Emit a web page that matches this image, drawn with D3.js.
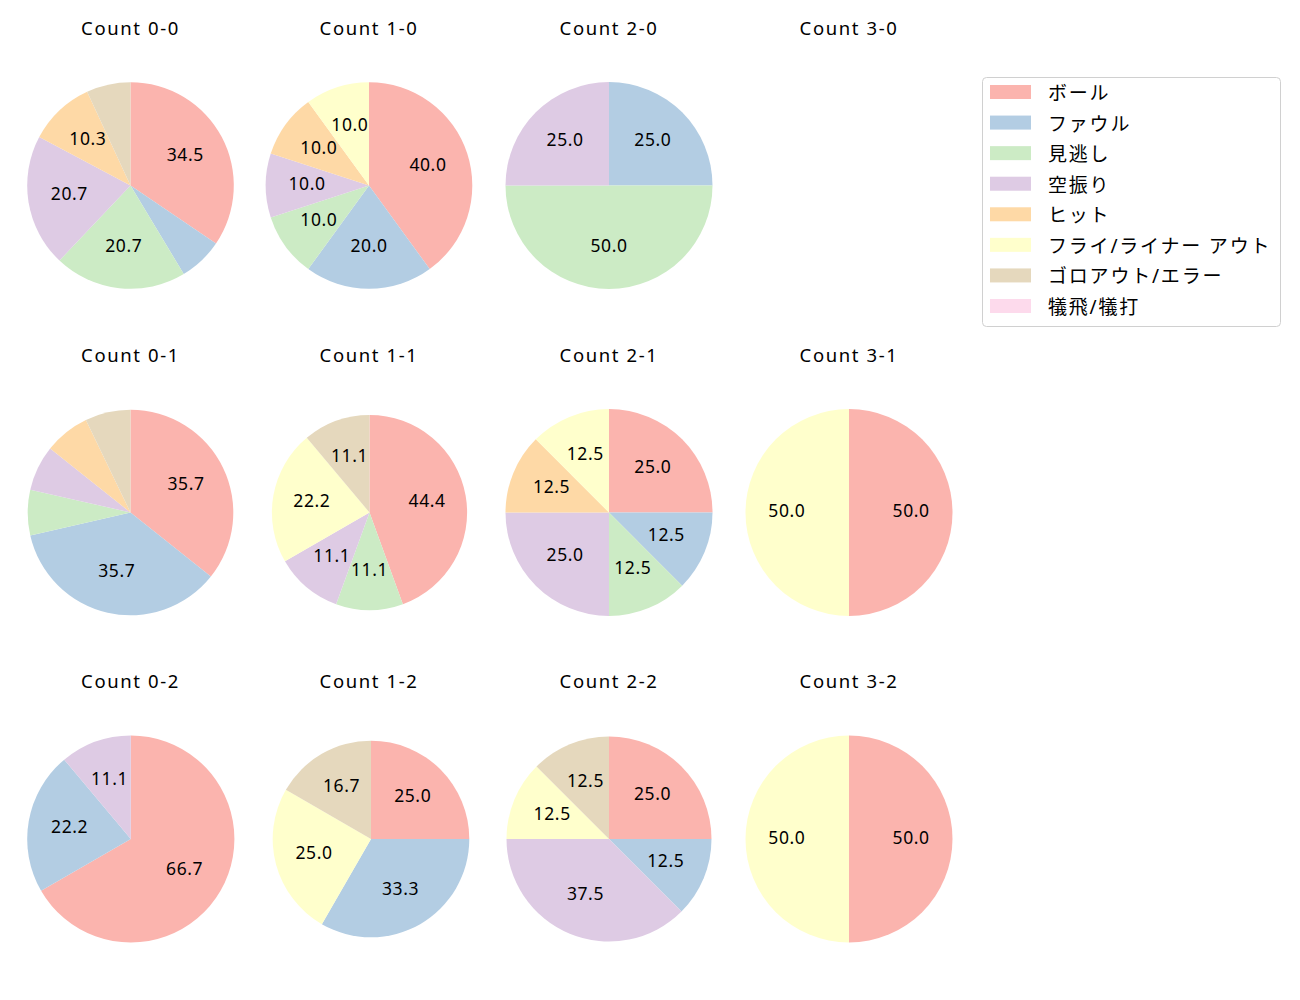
<!DOCTYPE html>
<html><head><meta charset="utf-8">
<script src="https://cdn.jsdelivr.net/npm/d3@7/dist/d3.min.js"></script>
<style>
html,body{margin:0;padding:0;background:#fff;}
svg{display:block;font-family:"Noto Sans","Noto Sans CJK JP",sans-serif;}
</style></head>
<body>
<svg id="chart" width="1300" height="1000"></svg>
<script>
const categories = ["ボール","ファウル","見逃し","空振り","ヒット","フライ/ライナー アウト","ゴロアウト/エラー","犠飛/犠打"];
const colors = ["#fbb4ae","#b3cde3","#ccebc5","#decbe4","#fed9a6","#ffffcc","#e5d8bd","#fddaec"];
const countLabels = ["0-0","1-0","2-0","3-0","0-1","1-1","2-1","3-1","0-2","1-2","2-2","3-2"];
const count00 = [10,2,6,6,3,0,2,0];
const count10 = [4,2,1,1,1,1,0,0];
const count20 = [0,1,2,1,0,0,0,0];
const count30 = [0,0,0,0,0,0,0,0];
const count01 = [5,5,1,1,1,0,1,0];
const count11 = [4,0,1,1,0,2,1,0];
const count21 = [2,1,1,2,1,1,0,0];
const count31 = [1,0,0,0,0,1,0,0];
const count02 = [6,2,0,1,0,0,0,0];
const count12 = [3,4,0,0,0,3,2,0];
const count22 = [2,1,0,3,0,1,1,0];
const count32 = [1,0,0,0,0,1,0,0];
const panelValues = [count00,count10,count20,count30,count01,count11,count21,count31,count02,count12,count22,count32];
const labelThreshold = 10;

// layout
const colX = [130.5, 369, 609, 849];
const rowY = [185.5, 512.5, 839];
const titleBase = [34.5, 361.5, 687.5];
const radii = [103.3,103.3,103.5,103.5, 102.8,97.6,103.5,103.5, 103.6,98.3,102.5,103.5];
const centerDx = [0,0,0,0, 0,0.5,0,0, 0.3,2,0,0];

const svg = d3.select("#chart");
const pie = d3.pie().sort(null).value(d => d.v);

panelValues.forEach((vals, i) => {
  const col = i % 4, row = Math.floor(i / 4);
  const cx = colX[col] + centerDx[i], cy = rowY[row];
  const r = radii[i];
  svg.append("text")
    .attr("x", colX[col]).attr("y", titleBase[row])
    .attr("text-anchor", "middle")
    .attr("font-size", 18.5).attr("letter-spacing", "1.6px").attr("fill", "#000")
    .text("Count " + countLabels[i]);
  const total = d3.sum(vals);
  if (total === 0) return;
  const data = vals.map((v, k) => ({v, k})).filter(d => d.v > 0);
  const arcs = pie(data);
  const g = svg.append("g").attr("transform", `translate(${cx},${cy})`);
  const arc = d3.arc().innerRadius(0).outerRadius(r);
  const labelArc = d3.arc().innerRadius(r * 0.6).outerRadius(r * 0.6);
  g.selectAll("path").data(arcs).join("path")
    .attr("d", arc).attr("fill", d => colors[d.data.k]);
  g.selectAll("text").data(arcs.filter(d => d.data.v / total * 100 >= labelThreshold)).join("text")
    .attr("transform", d => { const c = labelArc.centroid(d); return `translate(${c[0]},${c[1] - 2.5})`; })
    .attr("text-anchor", "middle").attr("dominant-baseline", "central")
    .attr("font-size", 17.5).attr("letter-spacing", "0.6px").attr("fill", "#000")
    .text(d => (d.data.v / total * 100).toFixed(1));
});

// legend
const lg = svg.append("g");
lg.append("rect").attr("x", 982.5).attr("y", 77.5).attr("width", 298).attr("height", 249)
  .attr("rx", 4).attr("fill", "#fff").attr("stroke", "#d0d0d0").attr("stroke-width", 1);
const legendY = d3.scalePoint().domain(categories).range([92, 306]);
categories.forEach((c, k) => {
  const y = legendY(c);
  lg.append("rect").attr("x", 990).attr("y", y - 7).attr("width", 41).attr("height", 14).attr("fill", colors[k]);
  lg.append("text").attr("x", 1048).attr("y", y + 1).attr("dominant-baseline", "central")
    .attr("font-size", 19).attr("letter-spacing", "1.8px").attr("fill", "#000").text(c);
});
</script>
</body></html>
